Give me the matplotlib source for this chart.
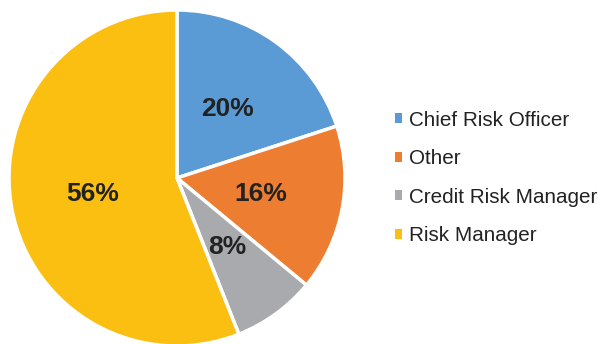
import matplotlib.pyplot as plt

plt.rcParams['font.family'] = ['Liberation Sans', 'DejaVu Sans']

roles = ["Chief Risk Officer", "Other", "Credit Risk Manager", "Risk Manager"]
shares = [20, 16, 8, 56]
colors = ["#5B9BD5", "#ED7D31", "#A9AAAD", "#FBBF12"]

fig = plt.figure(figsize=(5.98, 3.44), dpi=100)
ax = fig.add_axes([0, 0, 1, 1])

wedges, texts, autotexts = ax.pie(
    shares,
    colors=colors,
    startangle=90,
    counterclock=False,
    center=(177, 166),
    radius=168,
    autopct="%d%%",
    pctdistance=0.51,
    wedgeprops=dict(edgecolor="white", linewidth=2.5),
    textprops=dict(fontsize=19, fontweight="bold", color="#222222"),
    frame=True,
)
ax.set_xlim(0, 598)
ax.set_ylim(0, 344)
ax.set_aspect("equal")
ax.axis("off")

# legend markers are small squares without the white wedge outline
handles = [plt.Rectangle((0, 0), 1, 1, facecolor=c, edgecolor="none") for c in colors]
leg = ax.legend(
    handles, roles,
    loc="center left",
    bbox_to_anchor=(395 / 598, 1 - 178 / 344),
    frameon=False,
    fontsize=14.9,
    borderpad=0,
    borderaxespad=0,
    handlelength=0.36,
    handleheight=0.36,
    handletextpad=0.3,
    labelspacing=0.95,
)
for t in leg.get_texts():
    t.set_color("#222222")

fig.savefig("out.png", dpi=100)
